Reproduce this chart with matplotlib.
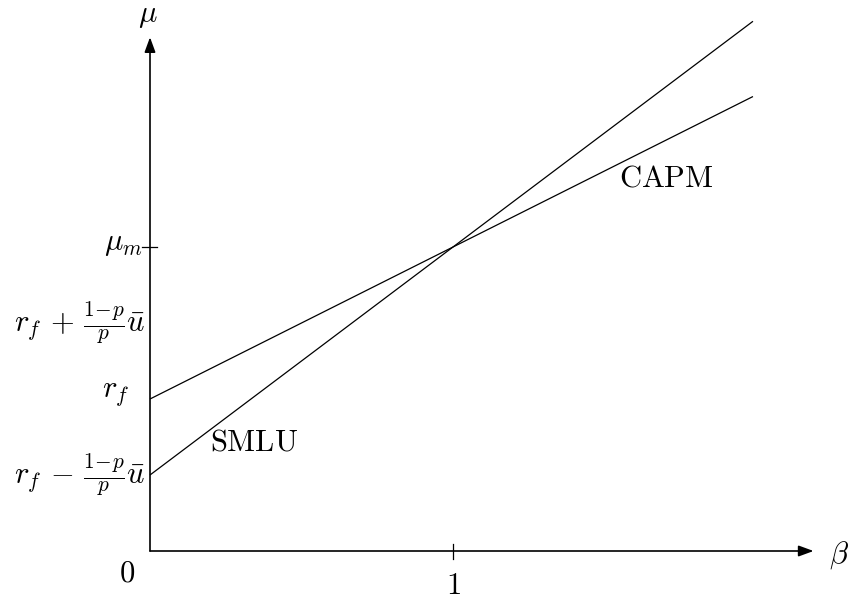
import matplotlib
matplotlib.use("Agg")
import matplotlib.pyplot as plt
import numpy as np

plt.rcParams['mathtext.fontset'] = 'cm'

# Data
beta_end = 1.99
capm_intercept = 0.5    # r_f
smlu_intercept = 0.25   # r_f - (1-p)/p * u
mu_m = 1.0
beta_m = 1.0
upper_level = 0.75      # r_f + (1-p)/p * u (label only)
line_names = ["CAPM", "SMLU"]
intercepts = [capm_intercept, smlu_intercept]

fig = plt.figure(figsize=(8.53, 6.06), dpi=100)
ax = fig.add_axes([0, 0, 1, 1])
ax.set_xlim(-150/303, (853-150)/303)
ax.set_ylim(-(606-551)/304, 551/304)
ax.axis('off')

fs = 22
astyle = '-|>,head_length=0.6,head_width=0.22'
# axes with arrows
ax.annotate('', xy=(2.19, 0), xytext=(0, 0),
            arrowprops=dict(arrowstyle=astyle, color='black', lw=1.2, mutation_scale=15, shrinkA=0, shrinkB=0))
ax.annotate('', xy=(0, 1.69), xytext=(0, 0),
            arrowprops=dict(arrowstyle=astyle, color='black', lw=1.2, mutation_scale=15, shrinkA=0, shrinkB=0))

# lines
b = np.array([0, beta_end])
for c in intercepts:
    slope = (mu_m - c) / beta_m
    ax.plot(b, c + slope * b, color='black', lw=0.9, solid_capstyle='butt')

# ticks
ax.plot([-8/303, 7/303], [mu_m, mu_m], color='black', lw=0.9)
ax.plot([beta_m, beta_m], [-8/304, 7/304], color='black', lw=0.9)

# labels
ax.text(-0.007, 1.763, r'$\mu$', fontsize=fs, ha='center', va='center')
ax.text(2.275, -0.015, r'$\beta$', fontsize=fs, ha='center', va='center')
ax.text(-0.076, -0.072, r'$0$', fontsize=fs, ha='center', va='center')
ax.text(1.0, -0.115, r'$1$', fontsize=fs, ha='center', va='center')
ax.text(-7/303, 1.013, r'$\mu_m$', fontsize=fs, ha='right', va='center')
ax.text(-5/303, upper_level, r'$r_f\,+\,\frac{1\!-\!p}{p}\bar{u}$', fontsize=fs, ha='right', va='center')
ax.text(-20/303, 0.5166, r'$r_f$', fontsize=fs, ha='right', va='center')
ax.text(-5/303, smlu_intercept, r'$r_f\,-\,\frac{1\!-\!p}{p}\bar{u}$', fontsize=fs, ha='right', va='center')
ax.text(60/303, (551-442)/304, r'$\mathrm{SMLU}$', fontsize=fs, ha='left', va='center')
ax.text(469/303, (551-178)/304, r'$\mathrm{CAPM}$', fontsize=fs, ha='left', va='center')

fig.savefig('out.png', dpi=100)
